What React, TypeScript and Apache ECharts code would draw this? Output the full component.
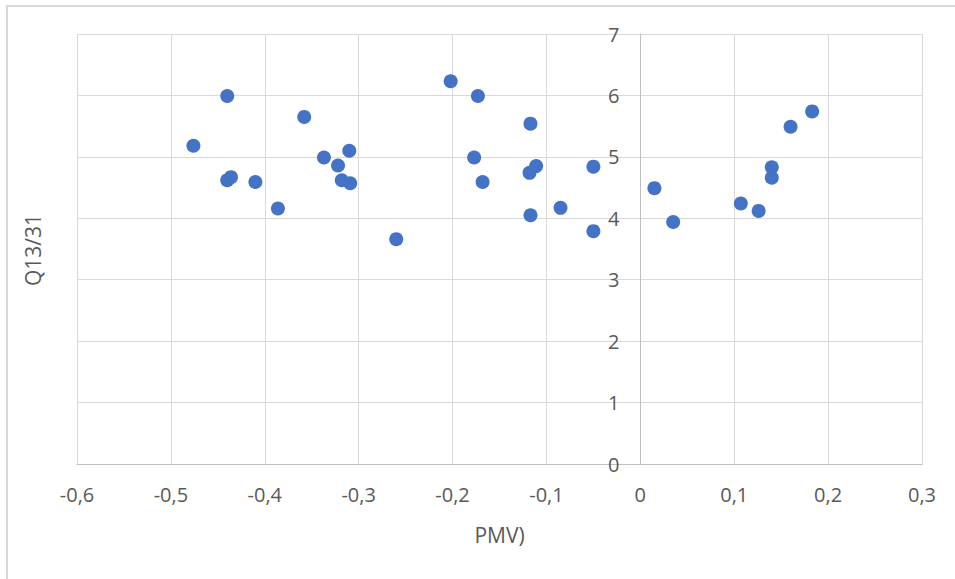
import React, { useEffect, useRef } from "react";
import * as echarts from "echarts";

const pmv: number[] = [
  -0.476, -0.44, -0.44, -0.436, -0.41, -0.386, -0.358, -0.337, -0.322, -0.318,
  -0.31, -0.309, -0.26, -0.202, -0.173, -0.177, -0.168, -0.117, -0.118, -0.111,
  -0.117, -0.085, -0.05, -0.05, 0.015, 0.035, 0.107, 0.126, 0.14, 0.14, 0.16, 0.183,
];
const q1331: number[] = [
  5.18, 5.99, 4.62, 4.67, 4.59, 4.16, 5.65, 4.99, 4.86, 4.62,
  5.1, 4.57, 3.66, 6.23, 5.99, 4.99, 4.59, 5.54, 4.74, 4.85,
  4.05, 4.17, 4.84, 3.79, 4.49, 3.94, 4.24, 4.12, 4.83, 4.66, 5.49, 5.74,
];

const xTitle = "PMV)";
const yTitle = "Q13/31";

const TEXT = "#595959";
const GRID = "#d9d9d9";
const AXIS = "#bfbfbf";
const FONT = "'Open Sans', 'Noto Sans', sans-serif";

const X_MIN = -0.6;
const X_MAX = 0.3;
const GRID_LEFT = 77;
const GRID_RIGHT = 33;
const WIDTH = 955;

function fmt(v: number): string {
  if (Math.abs(v) < 1e-9) return "0";
  return v.toFixed(1).replace(".", ",");
}

export default function App() {
  const ref = useRef<HTMLDivElement>(null);
  useEffect(() => {
    if (!ref.current) return;
    const chart = echarts.init(ref.current, undefined, { renderer: "svg" });
    const data = pmv.map((x, i) => [x, q1331[i]]);
    const plotW = WIDTH - GRID_LEFT - GRID_RIGHT;
    const zeroOffset = ((0 - X_MIN) / (X_MAX - X_MIN)) * plotW;
    chart.setOption({
      animation: false,
      backgroundColor: "#ffffff",
      grid: { left: GRID_LEFT, right: GRID_RIGHT, top: 34, bottom: 115, containLabel: false },
      xAxis: {
        type: "value",
        min: X_MIN,
        max: X_MAX,
        interval: 0.1,
        name: xTitle,
        nameLocation: "middle",
        nameGap: 60,
        nameTextStyle: { color: TEXT, fontSize: 21, fontFamily: FONT },
        axisLine: { show: true, onZero: false, lineStyle: { color: AXIS, width: 1 } },
        axisTick: { show: false },
        axisLabel: {
          color: TEXT,
          fontSize: 20,
          fontFamily: FONT,
          margin: 20,
          formatter: (v: number) => fmt(v),
        },
        splitLine: { show: true, lineStyle: { color: GRID, width: 1 } },
      },
      yAxis: {
        type: "value",
        min: 0,
        max: 7,
        interval: 1,
        position: "left",
        offset: -zeroOffset,
        axisLine: { show: true, onZero: false, lineStyle: { color: AXIS, width: 1 } },
        axisTick: { show: false },
        axisLabel: {
          color: TEXT,
          fontSize: 20,
          fontFamily: FONT,
          margin: 21,
          formatter: (v: number) => String(Math.round(v)),
        },
        splitLine: { show: true, lineStyle: { color: GRID, width: 1 } },
      },
      graphic: [
        {
          type: "rect",
          shape: { x: 7, y: 6, width: 1000, height: 700 },
          style: { fill: "none", stroke: GRID, lineWidth: 2 },
          silent: true,
          z: -1,
        },
        {
          type: "text",
          x: 33,
          y: 250,
          rotation: Math.PI / 2,
          style: {
            text: yTitle,
            fill: TEXT,
            fontSize: 21,
            fontFamily: FONT,
            align: "center",
            verticalAlign: "middle",
          },
        },
      ],
      series: [
        {
          type: "scatter",
          data,
          symbol: "circle",
          symbolSize: 14,
          itemStyle: { color: "#4472C4", opacity: 1 },
        },
      ],
    });
    return () => chart.dispose();
  }, []);
  return (
    <div
      ref={ref}
      style={{ position: "absolute", left: 0, top: 0, width: WIDTH, height: 579 }}
    />
  );
}
